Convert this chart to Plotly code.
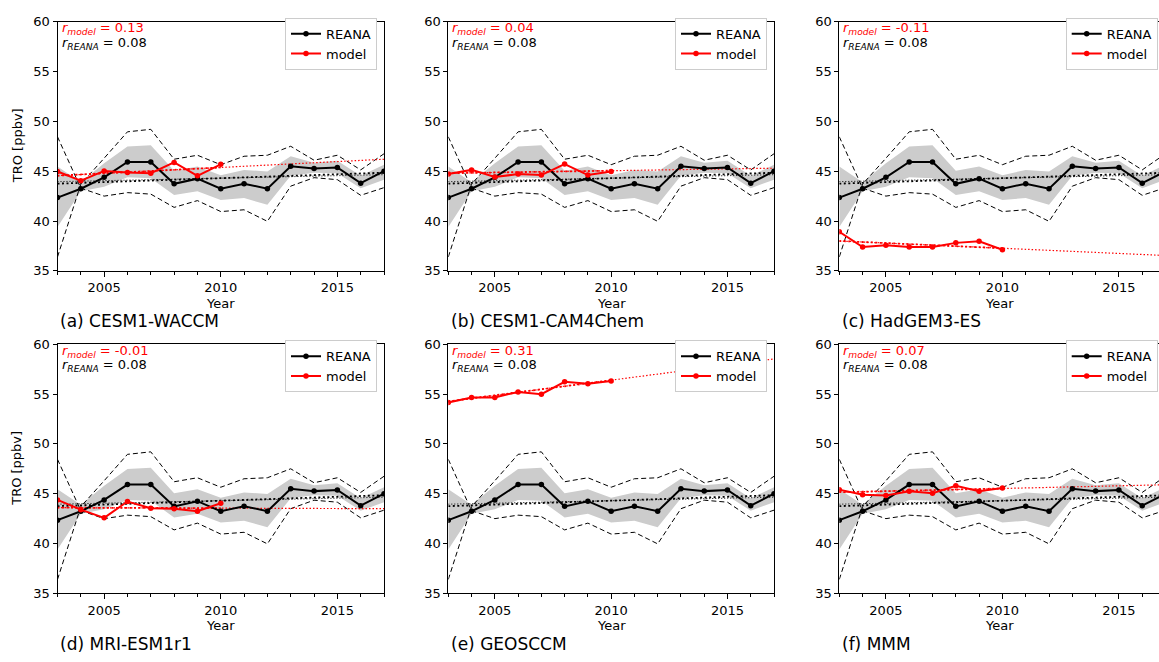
import plotly.graph_objects as go

W, H = 1159, 662

years = list(range(2003, 2018))
model_years = list(range(2003, 2011))

reana = [42.35, 43.24, 44.38, 45.92, 45.92, 43.73, 44.25, 43.24, 43.75, 43.24, 45.5, 45.26, 45.38, 43.8, 45.0]
band_hi = [45.46, 43.9, 45.8, 47.48, 47.6, 45.05, 45.46, 44.6, 45.13, 44.97, 46.5, 45.85, 46.05, 44.54, 45.65]
band_lo = [39.4, 43.0, 43.43, 44.38, 44.3, 42.62, 43.0, 42.12, 42.3, 41.64, 44.54, 44.85, 44.8, 43.3, 44.15]
env_a = [36.4, 43.7, 46.3, 48.95, 49.2, 46.2, 46.6, 45.65, 46.5, 46.6, 47.5, 46.1, 46.6, 45.13, 46.75]
env_b = [48.45, 43.3, 42.5, 42.85, 42.7, 41.37, 42.05, 40.95, 41.13, 39.97, 43.5, 44.35, 44.15, 42.58, 43.35]
reana_trend_thick = [43.75, 44.85]
reana_trend_thin = [43.95, 44.65]

panel_names = ["(a) CESM1-WACCM", "(b) CESM1-CAM4Chem", "(c) HadGEM3-ES",
               "(d) MRI-ESM1r1", "(e) GEOSCCM", "(f) MMM"]
r_model = ["0.13", "0.04", "-0.11", "-0.01", "0.31", "0.07"]
r_reana = "0.08"

model_a = [44.97, 44.05, 45.03, 44.87, 44.8, 45.88, 44.54, 45.69]
model_b = [44.71, 45.13, 44.41, 44.71, 44.61, 45.72, 44.61, 44.97]
model_c = [38.92, 37.39, 37.58, 37.39, 37.39, 37.81, 37.97, 37.12]
model_d = [44.38, 43.4, 42.58, 44.22, 43.55, 43.5, 43.24, 44.05]
model_e = [54.16, 54.66, 54.66, 55.21, 54.98, 56.23, 56.03, 56.3]
model_f = [45.41, 44.89, 44.82, 45.25, 45.05, 45.8, 45.25, 45.57]
models = [model_a, model_b, model_c, model_d, model_e, model_f]
# model trend lines: value at 2003 and at 2017
model_trends = [[44.55, 46.2], [44.8, 45.3], [38.0, 36.54],
                [43.6, 43.5], [54.26, 58.52], [45.15, 45.9]]

# layout geometry (pixels)
col_x = [(57.5, 384.0), (448.3, 774.0), (839.3, 1159.0)]
row_y = [(15.0, 270.0), (345.0, 600.0)]
x_ranges = [[2003, 2017], [2003, 2017], [2003, 2016.72]]

FONT = "DejaVu Sans"
RED = "#ff0000"

fig = go.Figure()
annotations = []

for i in range(6):
    r, c = divmod(i, 3)
    n = i + 1
    xa = "x" if n == 1 else f"x{n}"
    ya = "y" if n == 1 else f"y{n}"
    leg = "legend" if n == 1 else f"legend{n}"
    x0, x1 = col_x[c]
    yt, yb = row_y[r]

    # band
    fig.add_trace(go.Scatter(x=years, y=band_hi, mode="lines", line=dict(width=0, color="rgba(0,0,0,0)"),
                             xaxis=xa, yaxis=ya, showlegend=False, hoverinfo="skip"))
    fig.add_trace(go.Scatter(x=years, y=band_lo, mode="lines", line=dict(width=0, color="rgba(0,0,0,0)"),
                             fill="tonexty", fillcolor="rgb(204,204,204)",
                             xaxis=xa, yaxis=ya, showlegend=False, hoverinfo="skip"))
    # envelopes
    for env in (env_a, env_b):
        fig.add_trace(go.Scatter(x=years, y=env, mode="lines",
                                 line=dict(color="black", width=1, dash="5px,3px"),
                                 xaxis=xa, yaxis=ya, showlegend=False, hoverinfo="skip"))
    # reana trends
    fig.add_trace(go.Scatter(x=[years[0], years[-1]], y=reana_trend_thin, mode="lines",
                             line=dict(color="black", width=1, dash="1px,2px"),
                             xaxis=xa, yaxis=ya, showlegend=False, hoverinfo="skip"))
    fig.add_trace(go.Scatter(x=[years[0], years[-1]], y=reana_trend_thick, mode="lines",
                             line=dict(color="black", width=1.8, dash="2px,2.5px"),
                             xaxis=xa, yaxis=ya, showlegend=False, hoverinfo="skip"))
    # model trends
    t0, t1 = model_trends[i]
    tm = t0 + (t1 - t0) * (model_years[-1] - years[0]) / (years[-1] - years[0])
    fig.add_trace(go.Scatter(x=[years[0], years[-1]], y=[t0, t1], mode="lines",
                             line=dict(color=RED, width=1.2, dash="1.5px,2px"),
                             xaxis=xa, yaxis=ya, showlegend=False, hoverinfo="skip"))
    fig.add_trace(go.Scatter(x=[model_years[0], model_years[-1]], y=[t0, tm], mode="lines",
                             line=dict(color=RED, width=1.8, dash="2px,2.5px"),
                             xaxis=xa, yaxis=ya, showlegend=False, hoverinfo="skip"))
    # reana line
    fig.add_trace(go.Scatter(x=years, y=reana, mode="lines+markers", name="REANA",
                             line=dict(color="black", width=2), marker=dict(size=5.5, color="black"),
                             xaxis=xa, yaxis=ya, legend=leg, showlegend=True))
    # model line
    fig.add_trace(go.Scatter(x=model_years, y=models[i], mode="lines+markers", name="model",
                             line=dict(color=RED, width=2), marker=dict(size=5.5, color=RED),
                             xaxis=xa, yaxis=ya, legend=leg, showlegend=True))

    axx = dict(domain=[x0 / W, x1 / W], range=x_ranges[c], anchor=ya,
               showline=True, linecolor="black", linewidth=1, mirror=True,
               showgrid=False, zeroline=False,
               tickmode="array", tickvals=[2005, 2010, 2015], ticktext=["2005", "2010", "2015"],
               ticks="outside", ticklen=5, tickcolor="black", tickwidth=1,
               minor=dict(ticks="outside", ticklen=3, tickcolor="black", dtick=1, tick0=2003, showgrid=False),
               tickfont=dict(family=FONT, size=13, color="black"))
    axy = dict(domain=[1 - yb / H, 1 - yt / H], range=[35, 60], anchor=xa,
               showline=True, linecolor="black", linewidth=1, mirror=(c < 2),
               showgrid=False, zeroline=False, tickmode="linear", tick0=35, dtick=5,
               ticks="outside", ticklen=4, tickcolor="black", tickwidth=1,
               tickfont=dict(family=FONT, size=13, color="black"))
    fig.update_layout({("xaxis" if n == 1 else f"xaxis{n}"): axx,
                       ("yaxis" if n == 1 else f"yaxis{n}"): axy})

    # legend
    legdict = dict(font=dict(family=FONT, size=13, color="black"), bgcolor="white",
                   bordercolor="#cccccc", borderwidth=1, itemwidth=30, traceorder="normal",
                   yanchor="top", y=1 - (yt - 4) / H, tracegroupgap=0)
    if c < 2:
        legdict.update(xanchor="right", x=(x1 - 7) / W)
    else:
        legdict.update(xanchor="left", x=1065.7 / W)
    fig.update_layout({leg: legdict})

    # annotations
    annotations.append(dict(x=(x0 + 2) / W, y=1 - (yt + 7) / H, xref="paper", yref="paper",
                            xanchor="left", yanchor="middle", showarrow=False,
                            text=f"<i>r</i><sub><i>model</i></sub> = {r_model[i]}",
                            font=dict(family=FONT, size=13, color=RED)))
    annotations.append(dict(x=(x0 + 2) / W, y=1 - (yt + 22) / H, xref="paper", yref="paper",
                            xanchor="left", yanchor="middle", showarrow=False,
                            text=f"<i>r</i><sub><i>REANA</i></sub> = {r_reana}",
                            font=dict(family=FONT, size=13, color="black")))
    annotations.append(dict(x=((x0 + min(x1, x0 + 326.5)) / 2) / W, y=1 - (yb + 33) / H,
                            xref="paper", yref="paper", xanchor="center", yanchor="middle",
                            showarrow=False, text="Year",
                            font=dict(family=FONT, size=13, color="black")))
    annotations.append(dict(x=(x0 + 0.5) / W, y=1 - (yb + 51.5) / H, xref="paper", yref="paper",
                            xanchor="left", yanchor="middle", showarrow=False, text=panel_names[i],
                            font=dict(family=FONT, size=17, color="black")))
    if c == 0:
        annotations.append(dict(x=17 / W, y=1 - ((yt + yb) / 2) / H, xref="paper", yref="paper",
                                xanchor="center", yanchor="middle", showarrow=False, textangle=-90,
                                text="TRO [ppbv]", font=dict(family=FONT, size=13, color="black")))

fig.update_layout(width=W, height=H, margin=dict(l=0, r=0, t=0, b=0),
                  paper_bgcolor="white", plot_bgcolor="white",
                  annotations=annotations, font=dict(family=FONT, size=13, color="black"))

fig.write_html("out.html")
